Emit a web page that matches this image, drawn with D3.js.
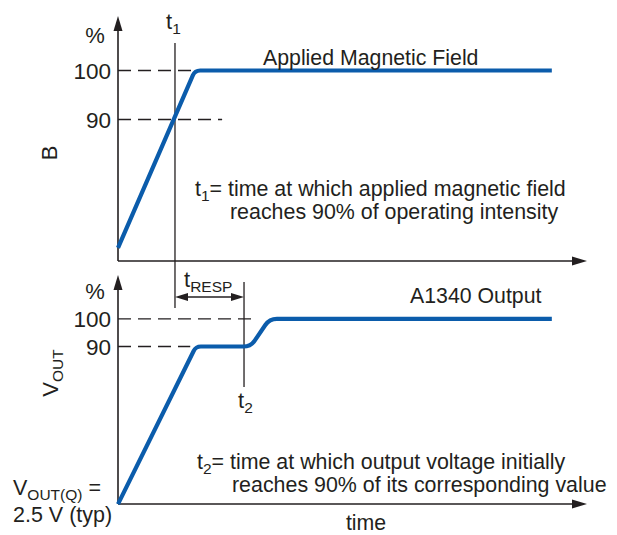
<!DOCTYPE html>
<html><head><meta charset="utf-8">
<script src="https://cdn.jsdelivr.net/npm/d3@7"></script>
<style>
body{margin:0;background:#fff}
text{font-family:"Liberation Sans",Arial,Helvetica,sans-serif;fill:#231f20}
</style>
</head><body>
<svg id="c" width="617" height="535" font-size="21"></svg>
<script>
// ---- data (time in arbitrary units 0..100, levels in %) ----
const fieldTime = [0, 16.4, 92.5];
const fieldPct  = [63.8, 100, 100];
const outTime   = [0, 16.6, 28.3, 32.3, 92.5];
const outPct    = [33.1, 90, 90, 100, 100];
const levels      = [100, 90];
const levelLabels = ["100", "90"];
const fieldGuideEnd = [15.8, 22.2];
const outGuideEnd   = [29.6, 15.4];
const markerTimes   = [12.15, 26.87];   // t1, t2

const ink = "#231f20", blue = "#0b5cab";
const svg = d3.select("#c");
const x    = d3.scaleLinear().domain([0, 100]).range([118, 587]);
const yTop = d3.scaleLinear().domain([90, 100]).range([119.5, 70.5]);
const yBot = d3.scaleLinear().domain([90, 100]).range([346.5, 318.8]);

function head(tx, ty, dir, len, half) {
  const p = d3.path();
  if (dir === "up")    { p.moveTo(tx, ty); p.lineTo(tx - half, ty + len); p.lineTo(tx + half, ty + len); }
  if (dir === "right") { p.moveTo(tx, ty); p.lineTo(tx - len, ty - half); p.lineTo(tx - len, ty + half); }
  if (dir === "left")  { p.moveTo(tx, ty); p.lineTo(tx + len, ty - half); p.lineTo(tx + len, ty + half); }
  p.closePath();
  svg.append("path").attr("d", p.toString()).attr("fill", ink);
}
function seg(x1, y1, x2, y2, w, dash) {
  const l = svg.append("line").attr("x1", x1).attr("y1", y1).attr("x2", x2).attr("y2", y2)
    .attr("stroke", ink).attr("stroke-width", w);
  if (dash) l.attr("stroke-dasharray", dash);
  return l;
}
function rounded(pts, radii) {
  const p = d3.path();
  p.moveTo(pts[0][0], pts[0][1]);
  for (let i = 1; i < pts.length - 1; i++)
    p.arcTo(pts[i][0], pts[i][1], pts[i + 1][0], pts[i + 1][1], radii[i - 1]);
  p.lineTo(pts[pts.length - 1][0], pts[pts.length - 1][1]);
  return p.toString();
}
function txt(xp, yp, parts, anchor, size) {
  const t = svg.append("text").attr("x", xp).attr("y", yp);
  if (anchor) t.attr("text-anchor", anchor);
  if (size) t.attr("font-size", size);
  let shift = 0;
  parts.forEach(pt => {
    const s = t.append("tspan").text(pt[0]);
    if (pt[1]) { s.attr("font-size", 15.5).attr("dy", 5 - shift); shift = 5; }
    else if (shift) { s.attr("dy", -shift); shift = 0; }
  });
  return t;
}

// ---- axes ----
const topBase = 261, botBase = 504;
seg(x(0), topBase, x(100) - 12, topBase, 1.6);
head(x(100), topBase, "right", 15, 4.5);
seg(x(0), topBase, x(0), 28, 1.6);
head(x(0), 16, "up", 15, 4.5);
seg(x(0), botBase, x(100) - 12, botBase, 1.6);
head(x(100), botBase, "right", 15, 4.5);
seg(x(0), botBase, x(0), 286, 1.6);
head(x(0), 275, "up", 15, 4.5);

// level labels via axes
[[yTop], [yBot]].forEach(([ys]) => {
  const g = svg.append("g").attr("transform", `translate(${x(0)},0)`)
    .call(d3.axisLeft(ys).tickValues(levels).tickSize(0).tickPadding(7)
      .tickFormat((d, i) => levelLabels[i]));
  g.select(".domain").remove();
  g.attr("font-family", null).attr("font-size", 22.5);
  g.selectAll("text").attr("dy", "0.36em").style("fill", ink);
});

// dashed guides
levels.forEach((lv, i) => {
  seg(x(0), yTop(lv), x(fieldGuideEnd[i]), yTop(lv), 1.3, "13,7");
  seg(x(0), yBot(lv), x(outGuideEnd[i]), yBot(lv), 1.3, "13,7");
});

// markers
seg(x(markerTimes[0]), 43, x(markerTimes[0]), 308, 1.3);
seg(x(markerTimes[1]), 282, x(markerTimes[1]), 387, 1.3);
seg(x(markerTimes[0]) + 12, 297, x(markerTimes[1]) - 12, 297, 1.3);
head(x(markerTimes[0]), 297, "left", 13, 4);
head(x(markerTimes[1]), 297, "right", 13, 4);

// curves
svg.append("path")
  .attr("d", rounded(fieldTime.map((t, i) => [x(t), yTop(fieldPct[i])]), [8]))
  .attr("fill", "none").attr("stroke", blue).attr("stroke-width", 4.2);
svg.append("path")
  .attr("d", rounded(outTime.map((t, i) => [x(t), yBot(outPct[i])]), [8, 14, 14]))
  .attr("fill", "none").attr("stroke", blue).attr("stroke-width", 4.2);

// texts
txt(95, 43, [["%"]], "middle", 22);
txt(95, 299, [["%"]], "middle", 22);
txt(166, 29, [["t"], ["1", 1]], null, 22);
svg.append("text").attr("transform", "translate(57,153) rotate(-90)").attr("text-anchor", "middle").attr("font-size", 22).text("B");
const vo = svg.append("text").attr("transform", "translate(58,373) rotate(-90)").attr("text-anchor", "middle").attr("font-size", 22);
vo.append("tspan").text("V");
vo.append("tspan").attr("font-size", 15.5).attr("dy", 5).text("OUT");
txt(263, 65, [["Applied Magnetic Field"]], null, 21.3);
txt(195, 196, [["t"], ["1", 1], ["= time at which applied magnetic field"]], null, 21.4);
txt(230, 219, [["reaches 90% of operating intensity"]], null, 21.4);
txt(410, 303, [["A1340 Output"]], null, 21.3);
txt(184, 287, [["t"], ["RESP", 1]], null, 22);
txt(238, 408, [["t"], ["2", 1]], null, 22);
txt(197, 469, [["t"], ["2", 1], ["= time at which output voltage initially"]], null, 21.4);
txt(232, 492, [["reaches 90% of its corresponding value"]], null, 21.4);
txt(13, 495, [["V"], ["OUT(Q)", 1], [" ="]], null, 21.5);
txt(13, 522, [["2.5 V (typ)"]], null, 21.5);
txt(366, 530, [["time"]], "middle", 21.3);
</script>
</body></html>
